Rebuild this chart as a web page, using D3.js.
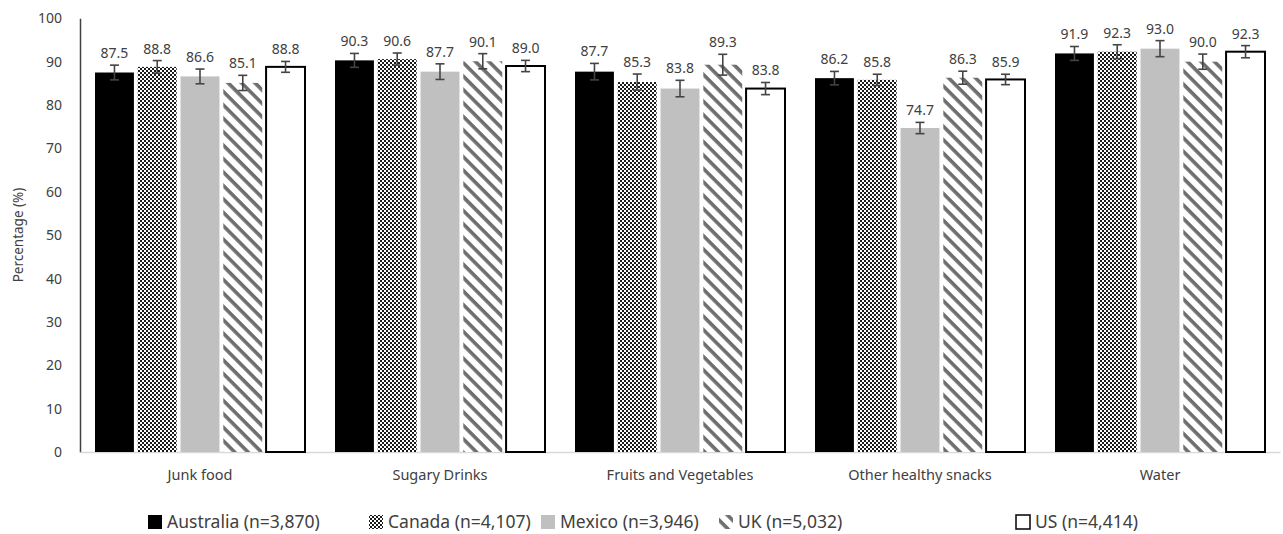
<!DOCTYPE html>
<html><head><meta charset="utf-8">
<script src="https://cdn.jsdelivr.net/npm/d3@7"></script>
<style>body{margin:0;background:#fff}svg{display:block}text{font-family:"Noto Sans","Open Sans",sans-serif}</style>
</head><body><svg id="c" width="1283" height="534"></svg>
<script>
const categories = ["Junk food","Sugary Drinks","Fruits and Vegetables","Other healthy snacks","Water"];
const seriesNames = ["Australia (n=3,870)","Canada (n=4,107)","Mexico (n=3,946)","UK (n=5,032)","US (n=4,414)"];
const australia = [87.5, 90.3, 87.7, 86.2, 91.9];
const canada    = [88.8, 90.6, 85.3, 85.8, 92.3];
const mexico    = [86.6, 87.7, 83.8, 74.7, 93.0];
const uk        = [85.1, 90.1, 89.3, 86.3, 90.0];
const us        = [88.8, 89.0, 83.8, 85.9, 92.3];
const errAustralia = [1.7, 1.6, 1.9, 1.55, 1.6];
const errCanada    = [1.45, 1.4, 1.85, 1.3, 1.6];
const errMexico    = [1.7, 1.8, 1.9, 1.3, 1.85];
const errUK        = [1.75, 1.75, 2.4, 1.5, 1.75];
const errUS        = [1.25, 1.3, 1.4, 1.2, 1.4];
const yTicks = [0,10,20,30,40,50,60,70,80,90,100];

const values = [australia, canada, mexico, uk, us];
const errs = [errAustralia, errCanada, errMexico, errUK, errUS];
const fills = ["#000","url(#pCanada)","#c0c0c0","url(#pUK)","#fff"];

const svg = d3.select("#c");
const defs = svg.append("defs");
const pc = defs.append("pattern").attr("id","pCanada").attr("patternUnits","userSpaceOnUse").attr("width",4).attr("height",4);
pc.append("rect").attr("width",4).attr("height",4).attr("fill","#fff");
pc.append("rect").attr("x",0).attr("y",0).attr("width",2).attr("height",2).attr("fill","#1a1a1a");
pc.append("rect").attr("x",2).attr("y",2).attr("width",2).attr("height",2).attr("fill","#1a1a1a");
const pu = defs.append("pattern").attr("id","pUK").attr("patternUnits","userSpaceOnUse").attr("width",9.5).attr("height",9.5).attr("patternTransform","rotate(45)");
pu.append("rect").attr("width",9.5).attr("height",9.5).attr("fill","#fff");
pu.append("rect").attr("width",9.5).attr("height",3.6).attr("fill","#6e6e6e");

const mLeft = 80, mRight = 1280, mTop = 18.3, mBottom = 452;
const y = d3.scaleLinear().domain([0,100]).range([mBottom, mTop]);
const x0 = d3.scaleBand().domain(categories).range([mLeft,mRight]).paddingInner(0.125).paddingOuter(0.0625);
const x1 = d3.scaleBand().domain(d3.range(5)).range([0, x0.bandwidth()]).paddingInner(0.09);

const ya = svg.append("g").attr("transform",`translate(${mLeft},0)`)
  .call(d3.axisLeft(y).tickValues(yTicks).tickSize(0).tickPadding(18));
ya.select(".domain").attr("stroke","#404040").attr("stroke-width",1.5);
ya.selectAll("text").attr("font-size",14).attr("fill","#404040");

const xa = svg.append("g").attr("transform",`translate(0,${mBottom})`)
  .call(d3.axisBottom(x0).tickSize(0).tickPadding(18));
xa.select(".domain").attr("stroke","#d9d9d9").attr("stroke-width",1.5);
xa.selectAll("text").attr("font-size",14.5).attr("fill","#404040");

const g = svg.append("g");
categories.forEach((c, ci) => {
  const gx = x0(c);
  values.forEach((vals, si) => {
    const v = vals[ci], e = errs[si][ci];
    const bx = gx + x1(si), bw = x1.bandwidth();
    g.append("rect").attr("x",bx).attr("y",y(v)).attr("width",bw).attr("height",y(0)-y(v))
      .attr("fill",fills[si])
      .attr("stroke", si===4 ? "#000" : "none").attr("stroke-width", si===4 ? 2 : 0);
    const cx = bx + bw/2;
    const eg = g.append("g").attr("stroke","#444").attr("stroke-width",1.6);
    eg.append("line").attr("x1",cx).attr("x2",cx).attr("y1",y(v+e)).attr("y2",y(v-e));
    eg.append("line").attr("x1",cx-4.5).attr("x2",cx+4.5).attr("y1",y(v+e)).attr("y2",y(v+e));
    eg.append("line").attr("x1",cx-4.5).attr("x2",cx+4.5).attr("y1",y(v-e)).attr("y2",y(v-e));
    g.append("text").attr("x",cx).attr("y",y(v+e)-7).attr("text-anchor","middle")
      .attr("font-size",14).attr("fill","#404040").text(v.toFixed(1));
  });
});

svg.append("text").attr("transform","translate(23,235) rotate(-90)").attr("text-anchor","middle")
  .attr("font-size",13.5).attr("fill","#404040").text("Percentage (%)");

const legX = [148, 369, 541, 719, 1016];
const lg = svg.append("g");
seriesNames.forEach((n, i) => {
  const sz = 14;
  lg.append("rect").attr("x",legX[i]).attr("y",515).attr("width",sz).attr("height",sz)
    .attr("fill",fills[i]).attr("stroke", i===4?"#000":"none").attr("stroke-width",1.5);
  lg.append("text").attr("x",legX[i]+sz+5).attr("y",528).attr("font-size",17.5).attr("fill","#404040").text(n);
});
</script></body></html>
